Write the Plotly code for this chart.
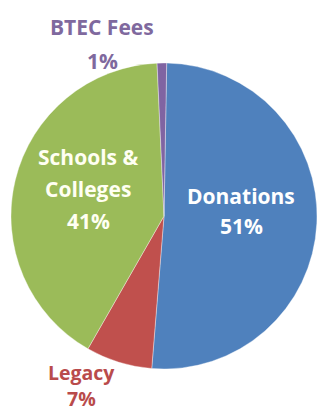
import plotly.graph_objects as go

categories = ["Donations", "Legacy", "Schools &<br>Colleges", "BTEC Fees"]
values = [51, 7, 41, 1]
slice_colors = ["#4F81BD", "#C0504D", "#9BBB59", "#8064A2"]
label_colors = ["#FFFFFF", "#B94B4B", "#FFFFF2", "#7F699E"]
# label anchor points in pixels (centre of first line), line spacing in px, font size
label_pos = [(241, 196), (81, 372), (88, 157), (102, 27)]
line_gap = [30, 26, 32, 34]
label_size = [21, 19.5, 21, 21]

W, H = 320, 412
cx, cy, r = 164, 216, 153

fig = go.Figure(go.Pie(
    labels=[c.replace("<br>", " ") for c in categories],
    values=values,
    sort=False,
    direction="clockwise",
    rotation=1,
    marker=dict(colors=slice_colors, line=dict(color="rgba(255,255,255,0.6)", width=0.6)),
    textinfo="none",
    hoverinfo="label+percent",
    showlegend=False,
    domain=dict(x=[(cx - r) / W, (cx + r) / W], y=[(H - cy - r) / H, (H - cy + r) / H]),
))

total = sum(values)
annotations = []
for cat, v, col, (px, py), gap, fs in zip(categories, values, label_colors, label_pos, line_gap, label_size):
    lines = cat.split("<br>") + [f"{round(100 * v / total)}%"]
    for i, t in enumerate(lines):
        annotations.append(dict(
            text=t, x=px / W, y=1 - (py + i * gap) / H, xref="paper", yref="paper",
            xanchor="center", yanchor="middle", showarrow=False,
            font=dict(family="Open Sans", size=fs, color=col, weight="bold"),
        ))

fig.update_layout(
    width=W, height=H, margin=dict(l=0, r=0, t=0, b=0),
    paper_bgcolor="white", plot_bgcolor="white",
    annotations=annotations,
)

fig.write_html("out.html")
